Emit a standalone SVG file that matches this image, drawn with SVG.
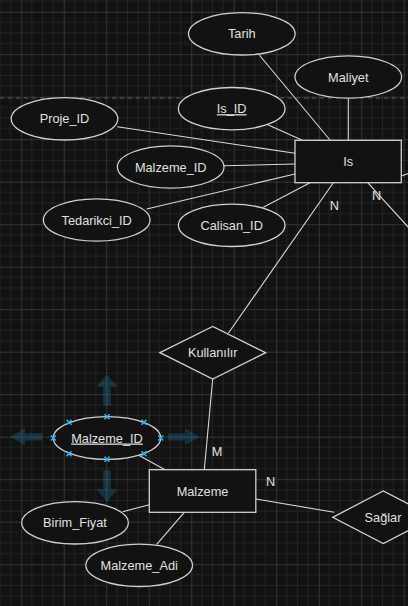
<svg xmlns="http://www.w3.org/2000/svg" width="408" height="606" viewBox="0 0 408 606">
<defs>
<pattern id="grid" x="21.25" y="11.7" width="42.5" height="42.5" patternUnits="userSpaceOnUse">
<path d="M10.625 0V42.5M21.25 0V42.5M31.875 0V42.5M0 10.625H42.5M0 21.25H42.5M0 31.875H42.5" stroke="#222222" stroke-width="1" fill="none"/>
<path d="M0.5 0V42.5M0 0.5H42.5" stroke="#333333" stroke-width="1" fill="none"/>
</pattern>
<style>
.sh{fill:#121212;stroke:#d0d0d0;stroke-width:1.3}
.t{font-family:"Liberation Sans",Arial,sans-serif;font-size:12.75px;fill:#e0e0e0;text-anchor:middle}
.u{text-decoration:underline}
.e{stroke:#d8d8d8;stroke-width:1.1;fill:none}
.ar{fill:#29b6f2;fill-opacity:0.2}
.hx{stroke:#29b6f2;stroke-width:1.6}
</style>
</defs>
<rect width="408" height="606" fill="#121212"/>
<rect width="408" height="606" fill="url(#grid)"/>
<line x1="0" y1="98" x2="408" y2="98" stroke="#5a5a5a" stroke-width="1" stroke-dasharray="4 4"/>

<g id="connectors">
<line class="e" x1="259.3" y1="55" x2="330" y2="140"/>
<line class="e" x1="348.3" y1="98.3" x2="348.3" y2="140"/>
<line class="e" x1="266.7" y1="124.3" x2="301.7" y2="140"/>
<line class="e" x1="117.3" y1="126.7" x2="295" y2="153.3"/>
<line class="e" x1="224" y1="165.7" x2="295" y2="164"/>
<line class="e" x1="146.7" y1="209" x2="295" y2="174"/>
<line class="e" x1="263.3" y1="207.3" x2="310" y2="182.7"/>
<line class="e" x1="333.3" y1="182.7" x2="228.3" y2="333.3"/>
<line class="e" x1="367.7" y1="182.7" x2="410" y2="229"/>
<line class="e" x1="401.3" y1="176" x2="410" y2="173"/>
<line class="e" x1="212.7" y1="379" x2="204.3" y2="469.7"/>
<line class="e" x1="256" y1="499" x2="334.3" y2="512.3"/>
<line class="e" x1="138.3" y1="455" x2="165" y2="469.7"/>
<line class="e" x1="122.7" y1="511.7" x2="149.3" y2="504.7"/>
<line class="e" x1="156.7" y1="544.3" x2="184.3" y2="512.3"/>
<text class="t" x="334.3" y="209.5">N</text>
<text class="t" x="376.7" y="199.5">N</text>
<text class="t" x="217" y="455.5">M</text>
<text class="t" x="270.7" y="485.5">N</text>
</g>

<g id="is">
<rect class="sh" x="295" y="140.3" width="106.3" height="42.4"/>
<text class="t" x="348.2" y="166">Is</text>
</g>
<g id="tarih">
<ellipse class="sh" cx="241.8" cy="33.8" rx="53.3" ry="21.2"/>
<text class="t" x="241.8" y="38.3">Tarih</text>
</g>
<g id="maliyet">
<ellipse class="sh" cx="348.3" cy="77" rx="53.3" ry="21.2"/>
<text class="t" x="348.3" y="81.5">Maliyet</text>
</g>
<g id="is_id">
<ellipse class="sh" cx="231.7" cy="108.7" rx="53.3" ry="21.2"/>
<text class="t u" x="231.7" y="113.2">Is_ID</text>
</g>
<g id="proje_id">
<ellipse class="sh" cx="64.5" cy="118.8" rx="53.3" ry="21.2"/>
<text class="t" x="64.5" y="123.3">Proje_ID</text>
</g>
<g id="malzeme_id_is">
<ellipse class="sh" cx="170.7" cy="167" rx="53.3" ry="21.2"/>
<text class="t" x="170.7" y="171.5">Malzeme_ID</text>
</g>
<g id="tedarikci_id">
<ellipse class="sh" cx="96.7" cy="220" rx="53.3" ry="21.2"/>
<text class="t" x="96.7" y="224.5">Tedarikci_ID</text>
</g>
<g id="calisan_id">
<ellipse class="sh" cx="231.7" cy="225.3" rx="53.3" ry="21.2"/>
<text class="t" x="231.7" y="229.8">Calisan_ID</text>
</g>
<g id="kullanilir">
<polygon class="sh" points="160,352.7 212.7,326.5 265.7,352.7 212.7,379"/>
<text class="t" x="212.7" y="357.2">Kullanılır</text>
</g>
<g id="malzeme">
<rect class="sh" x="149.3" y="469.7" width="106.5" height="42.6"/>
<text class="t" x="202.5" y="495.5">Malzeme</text>
</g>
<g id="saglar">
<polygon class="sh" points="332.7,517.3 383.3,491 434,517.3 383.3,543.5"/>
<text class="t" x="383" y="521.8">Sağlar</text>
</g>
<g id="malzeme_id">
<path class="ar" d="M107 374.3L117.5 386.7H110.8V405.7H103.2V386.7H96.5Z"/>
<path class="ar" d="M107 501.7L117.5 489.3H110.8V470.3H103.2V489.3H96.5Z"/>
<path class="ar" d="M10 436.7L25 428.3V433.2H42.3V440.6H25V445Z"/>
<path class="ar" d="M200 436.7L185 428.3V433.2H167.7V440.6H185V445Z" transform="translate(0,0)"/>
<ellipse class="sh" cx="107" cy="438" rx="53.7" ry="21.3"/>
<text class="t u" x="107" y="442.5">Malzeme_ID</text>
<g class="hx">
<path d="M104.5 414.2l5 5M109.5 414.2l-5 5"/>
<path d="M104.5 456.8l5 5M109.5 456.8l-5 5"/>
<path d="M50.8 435.5l5 5M55.8 435.5l-5 5"/>
<path d="M158.2 435.5l5 5M163.2 435.5l-5 5"/>
<path d="M66.5 419.8l5 5M71.5 419.8l-5 5"/>
<path d="M141.5 419.8l5 5M146.5 419.8l-5 5"/>
<path d="M66.5 451.2l5 5M71.5 451.2l-5 5"/>
<path d="M141.5 451.2l5 5M146.5 451.2l-5 5"/>
</g>
</g>
<g id="birim_fiyat">
<ellipse class="sh" cx="75" cy="522.8" rx="53.3" ry="21.2"/>
<text class="t" x="75" y="527.3">Birim_Fiyat</text>
</g>
<g id="malzeme_adi">
<ellipse class="sh" cx="139.2" cy="565.3" rx="53.3" ry="21.2"/>
<text class="t" x="139.2" y="569.8">Malzeme_Adi</text>
</g>
</svg>
